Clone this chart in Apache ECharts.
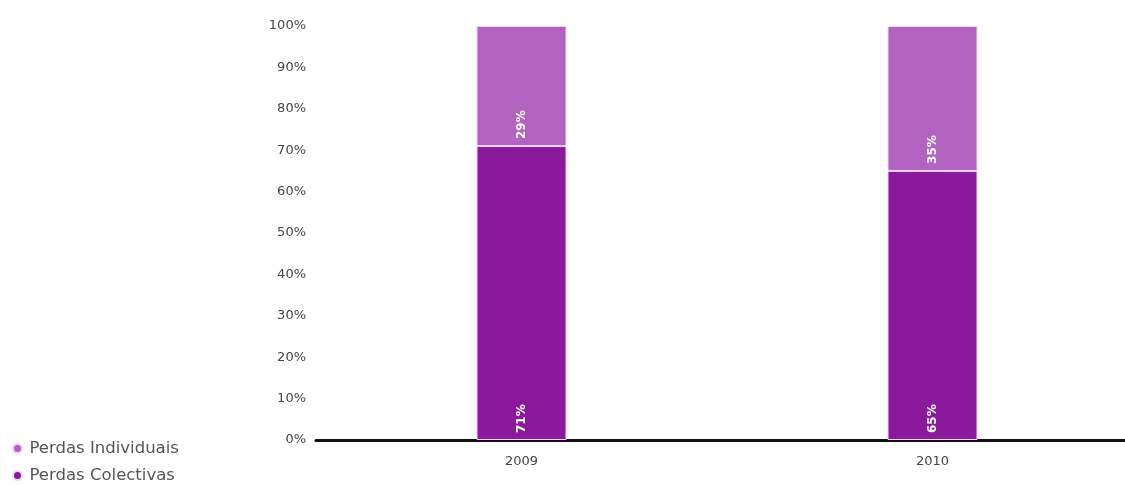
<!DOCTYPE html>
<html><head><meta charset="utf-8">
<script src="https://cdn.jsdelivr.net/npm/echarts@6/dist/echarts.min.js"></script>
<style>html,body{margin:0;padding:0;background:#fff}#c{width:1125px;height:486px}</style>
</head><body><div id="c"></div>
<script>
var categories = ['2009', '2010'];
var colectivas = [71, 65];
var individuais = [29, 35];
var seriesNames = ['Perdas Individuais', 'Perdas Colectivas'];

var chart = echarts.init(document.getElementById('c'));
var font = 'DejaVu Sans';
var lbl = {
  show: true, position: 'insideBottom', rotate: 90, distance: 7,
  align: 'left', verticalAlign: 'middle',
  formatter: '{c}%', color: '#fff', fontSize: 12, fontWeight: 'bold', fontFamily: font
};
chart.setOption({
  animation: false,
  legend: {
    orient: 'vertical', left: 12, top: 440, height: 60, padding: 0, itemGap: 10,
    icon: 'circle', itemWidth: 14, itemHeight: 9,
    textStyle: { color: '#555', fontSize: 16.5, fontFamily: font },
    data: seriesNames
  },
  grid: { left: 316, top: 26, width: 822, height: 414, outerBoundsMode: 'none', containLabel: false },
  xAxis: {
    type: 'category', data: categories, offset: 3,
    axisLine: { lineStyle: { color: '#111', width: 3 } },
    axisTick: { show: false },
    axisLabel: { color: '#444', fontSize: 13, fontFamily: font, margin: 12 }
  },
  yAxis: {
    type: 'value', min: 0, max: 100, interval: 10,
    axisLine: { show: false }, axisTick: { show: false },
    splitLine: { show: false },
    axisLabel: { formatter: '{value}%', color: '#444', fontSize: 13, fontFamily: font, margin: 10 }
  },
  series: [
    { name: 'Perdas Colectivas', type: 'bar', stack: 't', data: colectivas, barWidth: 90,
      itemStyle: { color: '#8a1a9b', borderColor: '#f3d6f6', borderWidth: 1 }, label: lbl },
    { name: 'Perdas Individuais', type: 'bar', stack: 't', data: individuais, barWidth: 90,
      itemStyle: { color: '#b163bf', borderColor: '#f3d6f6', borderWidth: 1 }, label: lbl }
  ]
});
</script></body></html>
